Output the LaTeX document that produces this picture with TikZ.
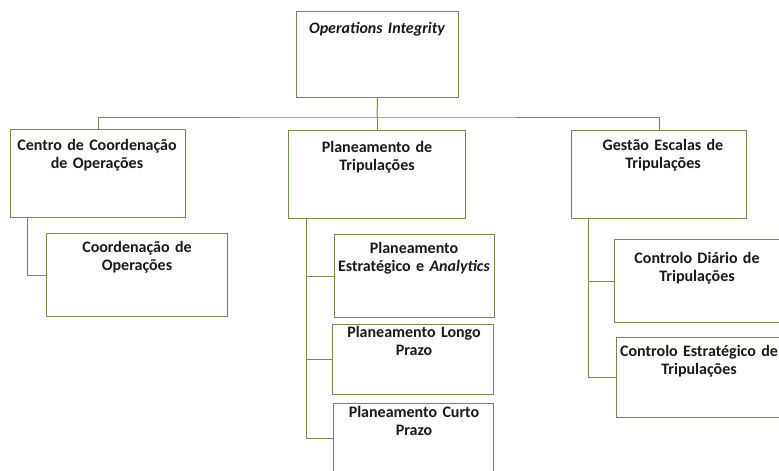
\documentclass[tikz,border=0pt]{standalone}
\usepackage{fontspec}
\setmainfont{Carlito}
\definecolor{lc}{RGB}{112,140,86}
\definecolor{tc}{RGB}{25,25,25}
\begin{document}
\begin{tikzpicture}[x=1pt,y=-1pt,
  box/.style={draw=lc, line width=1pt, inner sep=0pt, anchor=north west, fill=none},
  conn/.style={draw=lc, line width=1pt},
  lbl/.style={font=\bfseries\fontsize{16}{18}\selectfont, text=tc, align=center, text width=220pt, anchor=base, inner sep=0pt}]
\useasboundingbox (0,0) rectangle (779,471);
% boxes
\node[box, minimum width=162pt, minimum height=86pt] (top) at (296,11) {};
\node[box, minimum width=175pt, minimum height=88pt] (L) at (10,129) {};
\node[box, minimum width=181pt, minimum height=83pt] (L1) at (46,233) {};
\node[box, minimum width=177pt, minimum height=88pt] (M) at (288,130) {};
\node[box, minimum width=160pt, minimum height=83pt] (M1) at (334,234) {};
\node[box, minimum width=161pt, minimum height=70pt] (M2) at (332,324) {};
\node[box, minimum width=160pt, minimum height=70pt] (M3) at (333,403) {};
\node[box, minimum width=175pt, minimum height=88pt] (R) at (571,130) {};
\node[box, minimum width=168pt, minimum height=83pt] (R1) at (614,239) {};
\node[box, minimum width=168pt, minimum height=80pt] (R2) at (616,337) {};
% connectors
\coordinate (bus) at (377,117);
\draw[conn] (top.south) -- (bus);
\draw[conn] (L.north) |- (bus) -| (R.north);
\draw[conn] (bus) -- (M.north);
\coordinate (lt) at (27,217);
\draw[conn] (lt) |- (L1.west);
\coordinate (mt) at (306,218);
\draw[conn] (mt) |- (M1.west);
\draw[conn] (mt) |- (M2.west);
\draw[conn] (mt) |- (M3.west);
\coordinate (rt) at (588,218);
\draw[conn] (rt) |- (R1.west);
\draw[conn] (rt) |- (R2.west);
% labels
\node[lbl, font=\bfseries\itshape\fontsize{16}{18}\selectfont] (ttop) at (377,33) {Operations Integrity};
\node[lbl] (tL) at (97,150) {Centro de Coordenação\\de Operações};
\node[lbl] (tL1) at (137,252) {Coordenação de\\Operações};
\node[lbl] (tM) at (377,152) {Planeamento de\\Tripulações};
\node[lbl] (tM1) at (414,253) {Planeamento\\Estratégico e \textit{Analytics}};
\node[lbl] (tM2) at (414,337) {Planeamento Longo\\Prazo};
\node[lbl] (tM3) at (414,417) {Planeamento Curto\\Prazo};
\node[lbl] (tR) at (663,150) {Gestão Escalas de\\Tripulações};
\node[lbl] (tR1) at (697,263) {Controlo Diário de\\Tripulações};
\node[lbl] (tR2) at (699,356) {Controlo Estratégico de\\Tripulações};
\end{tikzpicture}
\end{document}
